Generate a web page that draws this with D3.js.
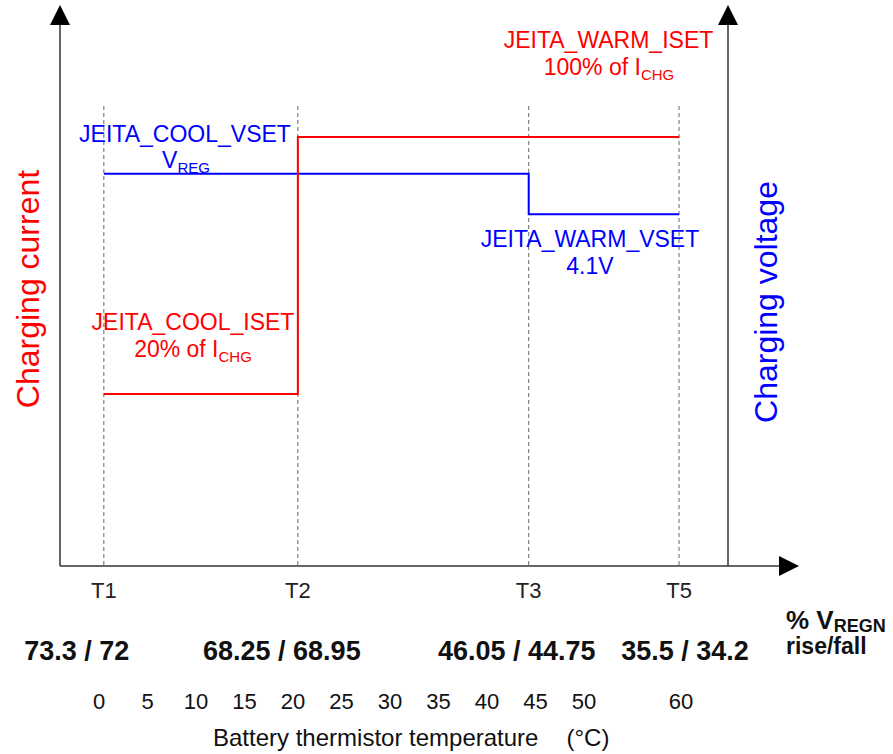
<!DOCTYPE html>
<html>
<head>
<meta charset="utf-8">
<script src="https://cdn.jsdelivr.net/npm/d3@7"></script>
<style>
  body { margin: 0; background: #fff; }
  svg { display: block; font-family: "Liberation Sans", Arial, sans-serif; }
</style>
</head>
<body>
<svg id="chart" width="893" height="754"></svg>
<script>
// thresholds (temperature where each dashed line sits)
const thresholds = ["T1", "T2", "T3", "T5"];
const thresholdTemps = [0.5, 20.5, 44.3, 59.8];
const vregnLabels = ["73.3 / 72", "68.25 / 68.95", "46.05 / 44.75", "35.5 / 34.2"];
const tempTicks = [0, 5, 10, 15, 20, 25, 30, 35, 40, 45, 50, 60];

// charging current in % of ICHG, step starts at each threshold
const currentSteps = [
  { t: "T1", v: 20 },
  { t: "T2", v: 100 },
  { t: "T5", v: 100 }
];
// charging voltage (VREG taken as 4.2 V)
const voltageSteps = [
  { t: "T1", v: 4.2 },
  { t: "T3", v: 4.1 },
  { t: "T5", v: 4.1 }
];

const svg = d3.select("#chart");
const red = "#ff0000", blue = "#0000ff", axisCol = "#333";
const leftX = 60, rightX = 728, baseY = 566, topY = 5;

const x = d3.scaleLinear().domain([0, 60]).range([99, 681]);
const tx = t => x(thresholdTemps[thresholds.indexOf(t)]);
const yI = d3.scaleLinear().domain([20, 100]).range([394, 137]);
const yV = d3.scaleLinear().domain([4.1, 4.2]).range([214.3, 173.7]);

// dashed threshold lines
svg.selectAll(".thr").data(thresholds).enter().append("line")
  .attr("class", "thr")
  .attr("x1", d => tx(d)).attr("x2", d => tx(d))
  .attr("y1", 106).attr("y2", baseY)
  .attr("stroke", "#666").attr("stroke-width", 1).attr("stroke-dasharray", "4,3");

// axes + arrows
const g = svg.append("g");
g.append("line").attr("x1", leftX).attr("x2", leftX).attr("y1", 20).attr("y2", baseY)
  .attr("stroke", axisCol).attr("stroke-width", 1.5);
g.append("line").attr("x1", rightX).attr("x2", rightX).attr("y1", 20).attr("y2", baseY)
  .attr("stroke", axisCol).attr("stroke-width", 1.5);
g.append("line").attr("x1", leftX).attr("x2", 785).attr("y1", baseY).attr("y2", baseY)
  .attr("stroke", axisCol).attr("stroke-width", 1.5);
const arrows = [
  [[leftX, topY], [leftX - 10, topY + 20], [leftX + 10, topY + 20]],
  [[rightX, topY], [rightX - 10, topY + 20], [rightX + 10, topY + 20]],
  [[799, baseY], [779, baseY - 10], [779, baseY + 10]]
];
g.selectAll("path.arrow").data(arrows).enter().append("path")
  .attr("class", "arrow")
  .attr("d", d => "M" + d.join("L") + "Z")
  .attr("fill", "#000");

// step lines
const stepLine = ys => d3.line().x(d => tx(d.t)).y(d => ys(d.v)).curve(d3.curveStepAfter);
svg.append("path").datum(voltageSteps)
  .attr("d", stepLine(yV)).attr("fill", "none").attr("stroke", blue).attr("stroke-width", 2);
svg.append("path").datum(currentSteps)
  .attr("d", stepLine(yI)).attr("fill", "none").attr("stroke", red).attr("stroke-width", 2);

// annotation text with optional subscript
function note(xp, yp, color, main, sub) {
  const t = svg.append("text").attr("x", xp).attr("y", yp)
    .attr("text-anchor", "middle").attr("fill", color).style("font-size", "23px");
  t.append("tspan").text(main);
  if (sub) t.append("tspan").attr("dy", 5).style("font-size", "15px").text(sub);
  return t;
}
note(185, 141.7, blue, "JEITA_COOL_VSET");
note(186, 168, blue, "V", "REG");
note(608.5, 48, red, "JEITA_WARM_ISET");
note(609, 75, red, "100% of I", "CHG");
note(590, 247, blue, "JEITA_WARM_VSET");
note(590, 274, blue, "4.1V");
note(193, 330, red, "JEITA_COOL_ISET");
note(193, 357, red, "20% of I", "CHG");

// axis titles
svg.append("text").attr("transform", "translate(39,289) rotate(-90)")
  .attr("text-anchor", "middle").attr("fill", red).style("font-size", "32px").text("Charging current");
svg.append("text").attr("transform", "translate(777,302) rotate(-90)")
  .attr("text-anchor", "middle").attr("fill", blue).style("font-size", "32px").text("Charging voltage");

// threshold names under the axis
svg.selectAll(".tname").data(thresholds).enter().append("text")
  .attr("class", "tname")
  .attr("x", d => tx(d)).attr("y", 598)
  .attr("text-anchor", "middle").attr("fill", "#222").style("font-size", "22px")
  .text(d => d);

// % VREGN rise/fall row
const rowNudge = [-27, -16, -12, 6];
svg.selectAll(".vregn").data(vregnLabels).enter().append("text")
  .attr("class", "vregn")
  .attr("x", (d, i) => tx(thresholds[i]) + rowNudge[i]).attr("y", 660)
  .attr("text-anchor", "middle").attr("fill", "#111")
  .style("font-size", "27px").style("font-weight", "bold")
  .text(d => d);
const vt = svg.append("text").attr("x", 786).attr("y", 629).attr("fill", "#111")
  .style("font-size", "26px").style("font-weight", "bold");
vt.append("tspan").text("% V");
vt.append("tspan").attr("dy", 3).style("font-size", "18px").text("REGN");
svg.append("text").attr("x", 786).attr("y", 654).attr("fill", "#111")
  .style("font-size", "23px").style("font-weight", "bold").text("rise/fall");

// temperature scale labels
svg.selectAll(".temp").data(tempTicks).enter().append("text")
  .attr("class", "temp")
  .attr("x", d => x(d)).attr("y", 709)
  .attr("text-anchor", "middle").attr("fill", "#111").style("font-size", "22px")
  .text(d => d);
svg.append("text").attr("x", 213).attr("y", 746).attr("fill", "#111")
  .style("font-size", "24px").text("Battery thermistor temperature");
svg.append("text").attr("x", 588).attr("y", 746).attr("text-anchor", "middle").attr("fill", "#111")
  .style("font-size", "24px").text("(°C)");
</script>
</body>
</html>
